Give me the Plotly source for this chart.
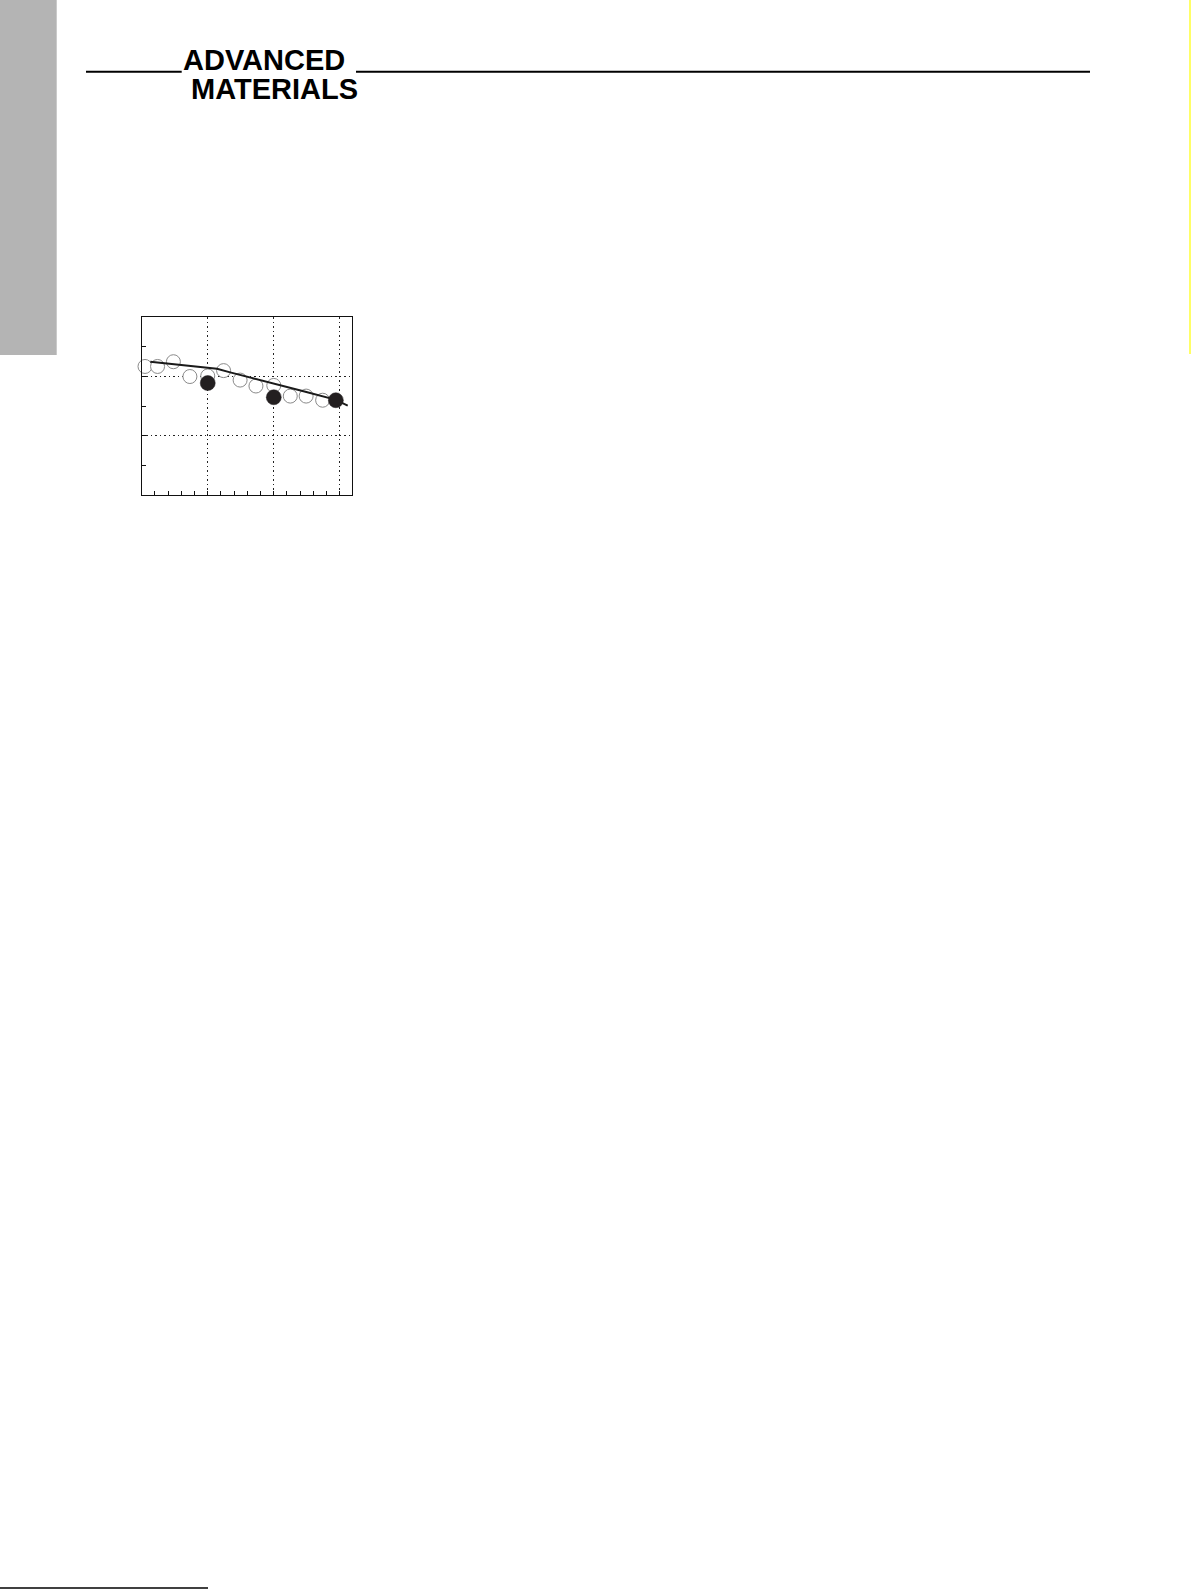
import plotly.graph_objects as go

W, H = 1191, 1589

# ---- data ----
open_x = [0.05, 0.24, 0.48, 0.73, 1.00, 1.24, 1.49, 1.73, 2.00, 2.25, 2.49, 2.74]
open_y = [2.17, 2.17, 2.25, 2.00, 2.01, 2.10, 1.94, 1.84, 1.85, 1.67, 1.67, 1.60]
filled_x = [1.00, 2.00, 2.94]
filled_y = [1.89, 1.65, 1.60]
fit_x = [0.13, 0.58, 1.14, 1.34, 1.99, 2.45, 2.93, 3.12]
fit_y = [2.25, 2.20, 2.13, 2.07, 1.89, 1.75, 1.61, 1.51]


def px(x):
    return x / W


def py(y):
    return 1 - y / H


fig = go.Figure()
fig.add_trace(go.Scatter(
    x=open_x, y=open_y, mode="markers", cliponaxis=False,
    marker=dict(size=14, color="white", line=dict(color="#8a8a8a", width=1)),
    showlegend=False))
fig.add_trace(go.Scatter(
    x=fit_x, y=fit_y, mode="lines", cliponaxis=False,
    line=dict(color="#1a1a1a", width=2), showlegend=False))
fig.add_trace(go.Scatter(
    x=filled_x, y=filled_y, mode="markers", cliponaxis=False,
    marker=dict(size=15, color="#231f20", line=dict(color="#231f20", width=0.5)),
    showlegend=False))

axis_common = dict(
    showline=True, mirror=True, linecolor="#111", linewidth=1.3,
    showticklabels=False, ticks="inside", ticklen=4, tickcolor="#111",
    showgrid=True, gridcolor="#222", gridwidth=1, griddash="1.5px,3px",
    zeroline=False,
)

fig.update_layout(
    width=W, height=H,
    margin=dict(l=0, r=0, t=0, b=0, pad=0),
    paper_bgcolor="white", plot_bgcolor="white",
    xaxis=dict(range=[0, 3.18], dtick=1, tick0=0,
               domain=[px(141.7), px(351.7)],
               minor=dict(dtick=0.2, ticks="inside", ticklen=4, tickcolor="#111", showgrid=False),
               **axis_common),
    yaxis=dict(range=[0, 3], dtick=1, tick0=0,
               domain=[py(495), py(317.3)],
               minor=dict(dtick=0.5, ticks="inside", ticklen=4, tickcolor="#111", showgrid=False),
               **axis_common),
)

shapes = [
    # grey side bar
    dict(type="rect", xref="paper", yref="paper", x0=px(0), x1=px(56.7), y0=py(355), y1=py(0),
         fillcolor="#b4b4b4", line=dict(width=0), layer="below"),
    # yellow edge line
    dict(type="line", xref="paper", yref="paper", x0=px(1190), x1=px(1190), y0=py(354), y1=py(0),
         line=dict(color="#ffff66", width=2)),
    # header rules
    dict(type="line", xref="paper", yref="paper", x0=px(86), x1=px(181.7), y0=py(71.7), y1=py(71.7),
         line=dict(color="black", width=2)),
    dict(type="line", xref="paper", yref="paper", x0=px(356), x1=px(1090), y0=py(71.7), y1=py(71.7),
         line=dict(color="black", width=2)),
    # bottom rule
    dict(type="line", xref="paper", yref="paper", x0=px(0), x1=px(208), y0=py(1588), y1=py(1588),
         line=dict(color="black", width=1.5)),
]
fig.update_layout(shapes=shapes)

logo_font = dict(family="Liberation Sans Narrow, Arial Narrow, Liberation Sans, Arial", size=29, color="black")
fig.add_annotation(text="<b>ADVANCED</b>", xref="paper", yref="paper", x=px(181), y=py(60),
                   xanchor="left", yanchor="middle", showarrow=False, font=logo_font)
fig.add_annotation(text="<b>MATERIALS</b>", xref="paper", yref="paper", x=px(189), y=py(89),
                   xanchor="left", yanchor="middle", showarrow=False, font=logo_font)

fig.write_html("out.html", config={"displayModeBar": False},
               post_script="document.body.style.margin='0px';document.body.style.overflow='hidden';")
